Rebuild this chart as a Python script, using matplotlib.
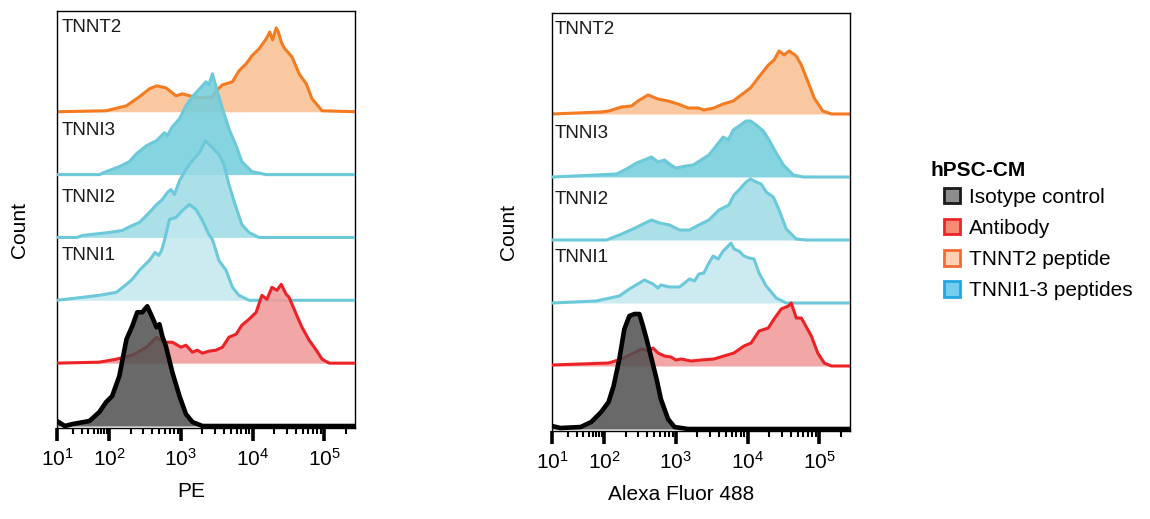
import numpy as np
import matplotlib
matplotlib.use('Agg')
import matplotlib.pyplot as plt
from matplotlib.patches import Patch
from matplotlib.ticker import FixedLocator, FuncFormatter, NullFormatter

# ---- data: histogram outlines ----
# positions are log10(fluorescence), counts are raw heights per row

# PE panel
pe_tnnt2_pos = [1.0, 1.94, 2.24, 2.42, 2.56, 2.66, 2.79, 2.93, 3.02, 3.12, 3.26, 3.44, 3.49, 3.58, 3.72, 3.81,
                3.91, 3.99, 4.09, 4.19, 4.24, 4.28, 4.33, 4.36, 4.40, 4.44, 4.55, 4.65, 4.75, 4.83, 4.97, 5.45]
pe_tnnt2_cnt = [0, 1, 6, 15, 23, 26, 24, 16, 18, 16, 14, 15, 21, 27, 30, 41,
                48, 56, 63, 73, 80, 72, 84, 80, 70, 64, 55, 38, 28, 13, 1, 0]

pe_tnni3_pos = [1.0, 1.81, 1.94, 2.14, 2.28, 2.38, 2.52, 2.66, 2.77, 2.81, 2.88, 2.98, 3.07, 3.16, 3.26, 3.35,
                3.39, 3.44, 3.51, 3.58, 3.67, 3.77, 3.85, 3.99, 4.19, 5.45]
pe_tnni3_cnt = [0, 0, 3, 8, 13, 21, 29, 34, 42, 39, 48, 56, 69, 78, 86, 93,
                90, 101, 83, 66, 46, 29, 13, 3, 0, 0]

pe_tnni2_pos = [1.0, 1.38, 1.49, 2.0, 2.18, 2.32, 2.42, 2.56, 2.66, 2.74, 2.81, 2.86, 2.91, 2.98, 3.07, 3.16,
                3.26, 3.34, 3.44, 3.53, 3.60, 3.67, 3.77, 3.85, 3.95, 4.09, 5.45]
pe_tnni2_cnt = [0, 0, 2, 5, 7, 12, 15, 25, 33, 38, 45, 48, 43, 57, 68, 77,
                85, 97, 90, 83, 73, 53, 30, 13, 5, 0, 0]

pe_tnni1_pos = [1.0, 1.49, 1.81, 2.10, 2.24, 2.32, 2.42, 2.56, 2.64, 2.69, 2.73, 2.77, 2.84, 2.93, 3.02, 3.12,
                3.21, 3.30, 3.39, 3.44, 3.53, 3.63, 3.72, 3.81, 3.95, 5.45]
pe_tnni1_cnt = [0, 3, 5, 8, 16, 21, 30, 40, 48, 45, 50, 60, 81, 83, 90, 96,
                91, 80, 66, 61, 40, 30, 13, 5, 0, 0]

pe_ab_pos = [1.0, 1.81, 2.10, 2.32, 2.52, 2.66, 2.77, 2.88, 2.93, 3.00, 3.07, 3.16, 3.23, 3.30, 3.39, 3.49,
             3.58, 3.67, 3.77, 3.85, 3.95, 4.05, 4.13, 4.20, 4.27, 4.34, 4.40, 4.47, 4.51, 4.61, 4.69, 4.79,
             4.89, 4.97, 5.07, 5.45]
pe_ab_cnt = [0, 1, 4, 8, 16, 26, 21, 21, 19, 16, 18, 11, 13, 10, 12, 13,
             16, 26, 29, 38, 44, 51, 68, 64, 76, 73, 79, 69, 66, 49, 36, 23,
             13, 4, 0, 0]

pe_iso_pos = [1.0, 1.15, 1.30, 1.62, 1.81, 1.94, 2.04, 2.14, 2.24, 2.32, 2.39, 2.46, 2.53, 2.60, 2.66, 2.70,
              2.74, 2.79, 2.88, 2.98, 3.07, 3.16, 3.30, 5.45]
pe_iso_cnt = [5, 0, 2, 5, 14, 24, 30, 50, 87, 100, 114, 114, 120, 109, 99, 102,
              90, 80, 54, 30, 12, 4, 0, 0]

# Alexa Fluor 488 panel
af_tnnt2_pos = [1.0, 1.94, 2.06, 2.24, 2.38, 2.47, 2.61, 2.75, 2.89, 3.03, 3.17, 3.31, 3.39, 3.53, 3.66, 3.80,
                3.91, 4.04, 4.18, 4.29, 4.37, 4.44, 4.51, 4.58, 4.68, 4.75, 4.85, 4.93, 5.05, 5.17, 5.45]
af_tnnt2_cnt = [0, 2, 3, 7, 8, 13, 19, 15, 13, 10, 6, 6, 4, 6, 10, 13,
                19, 26, 39, 49, 54, 63, 59, 63, 58, 49, 31, 16, 3, 0, 0]

af_tnni3_pos = [1.0, 1.84, 2.17, 2.31, 2.45, 2.59, 2.66, 2.75, 2.84, 2.93, 3.0, 3.14, 3.24, 3.35, 3.46, 3.56,
                3.66, 3.73, 3.80, 3.88, 3.98, 4.04, 4.12, 4.22, 4.30, 4.40, 4.50, 4.64, 4.78, 5.45]
af_tnni3_cnt = [0, 2, 3, 8, 14, 18, 20, 15, 17, 12, 9, 11, 12, 17, 22, 31,
                40, 37, 47, 51, 56, 56, 52, 46, 37, 24, 12, 2, 0, 0]

af_tnni2_pos = [1.0, 2.03, 2.21, 2.40, 2.54, 2.66, 2.77, 2.91, 3.05, 3.19, 3.32, 3.46, 3.60, 3.74, 3.81, 3.88,
                3.98, 4.04, 4.12, 4.19, 4.26, 4.36, 4.44, 4.54, 4.68, 4.82, 5.45]
af_tnni2_cnt = [0, 0, 5, 11, 16, 20, 17, 15, 10, 10, 15, 20, 30, 35, 45, 50,
                58, 61, 58, 56, 48, 43, 30, 11, 1, 0, 0]

af_tnni1_pos = [1.0, 1.84, 2.21, 2.35, 2.49, 2.56, 2.68, 2.75, 2.79, 2.91, 3.05, 3.12, 3.19, 3.26, 3.32, 3.39,
                3.46, 3.52, 3.59, 3.66, 3.73, 3.77, 3.81, 3.88, 3.95, 4.02, 4.09, 4.16, 4.26, 4.40, 4.54, 5.45]
af_tnni1_cnt = [0, 2, 7, 14, 20, 23, 19, 15, 18, 16, 16, 20, 24, 22, 29, 30,
                40, 47, 44, 52, 57, 60, 54, 52, 47, 45, 44, 30, 17, 5, 0, 0]

af_ab_pos = [1.0, 2.06, 2.24, 2.38, 2.52, 2.61, 2.68, 2.75, 2.84, 2.93, 3.0, 3.07, 3.21, 3.35, 3.53, 3.67,
             3.81, 3.95, 4.05, 4.16, 4.29, 4.37, 4.47, 4.57, 4.61, 4.68, 4.75, 4.79, 4.89, 4.98, 5.07, 5.17, 5.45]
af_ab_cnt = [1, 3, 7, 12, 17, 15, 18, 13, 10, 9, 6, 7, 5, 6, 7, 10,
             13, 20, 23, 35, 38, 47, 57, 60, 63, 48, 48, 43, 30, 13, 3, 0, 0]

af_iso_pos = [1.0, 1.16, 1.55, 1.75, 1.94, 2.06, 2.13, 2.21, 2.28, 2.35, 2.42, 2.49, 2.54, 2.59, 2.66, 2.73,
              2.79, 2.89, 2.98, 3.17, 5.45]
af_iso_cnt = [3, 1, 2, 7, 17, 27, 43, 70, 100, 113, 115, 115, 103, 90, 70, 50,
              30, 10, 2, 0, 0]

# rows from bottom to top
row_names = ['Isotype', 'Antibody', 'TNNI1', 'TNNI2', 'TNNI3', 'TNNT2']
tick_decades = [1, 2, 3, 4, 5]
legend_labels = ['Isotype control', 'Antibody', 'TNNT2 peptide', 'TNNI1-3 peptides']

# ---- layout / style ----
plt.rcParams['font.family'] = ['Liberation Sans', 'DejaVu Sans']
plt.rcParams['mathtext.fontset'] = 'custom'
plt.rcParams['mathtext.rm'] = 'Liberation Sans'
plt.rcParams['mathtext.it'] = 'Liberation Sans:italic'
plt.rcParams['mathtext.bf'] = 'Liberation Sans:bold'

ROW_STEP = 63
COMP = 0.73   # squeeze of the lowest decade, like a logicle display
FS = 15

row_style = {
    'Isotype': dict(line='black', fill='#4F4F4F', alpha=0.85, lw=3.3),
    'Antibody': dict(line='#EC2227', fill='#F19C9C', alpha=0.9, lw=2.2),
    'TNNI1': dict(line='#6CC9D9', fill='#C2E8EF', alpha=0.85, lw=2.2),
    'TNNI2': dict(line='#6CC9D9', fill='#9CDBE6', alpha=0.85, lw=2.2),
    'TNNI3': dict(line='#6CC9D9', fill='#74CEDC', alpha=0.88, lw=2.2),
    'TNNT2': dict(line='#F47B20', fill='#F9C8A1', alpha=1.0, lw=2.2),
}
# how far above its own baseline each row name sits
label_lift = {'TNNI1': 45, 'TNNI2': 40, 'TNNI3': 44, 'TNNT2': 84}


def fwd(x):
    lx = np.log10(np.maximum(x, 1e-3))
    return np.where(lx >= 2, lx, 2 - COMP * (2 - lx))


def inv(y):
    y = np.asarray(y, dtype=float)
    return np.where(y >= 2, 10.0 ** y, 10.0 ** (2 - (2 - y) / COMP))


def draw_panel(ax, data, xlabel, xlab_x, ylab_x, name_x):
    ax.set_xscale('function', functions=(fwd, inv))

    # draw top row first so lower histograms sit on top of it
    for k, name in enumerate(reversed(row_names)):
        i = row_names.index(name)
        pos, cnt = data[name]
        st = row_style[name]
        x = 10.0 ** np.array(pos)
        y = i * ROW_STEP + np.array(cnt, dtype=float)
        ax.fill_between(x, i * ROW_STEP, y, color=st['fill'], alpha=st['alpha'], lw=0, zorder=2 * k + 1)
        ax.plot(x, y, color=st['line'], lw=st['lw'], solid_joinstyle='round', zorder=2 * k + 2)
        if name in label_lift:
            ax.text(name_x, i * ROW_STEP + label_lift[name], name, fontsize=13.5, va='center', ha='left',
                    transform=ax.get_yaxis_transform(), color='#1a1a1a', zorder=20)

    ax.set_xlim(10, 10 ** 5.43)
    ax.set_ylim(-2, 416)

    major = [10.0 ** d for d in tick_decades]
    minor = [m * 10.0 ** d for d in range(1, 6) for m in range(2, 10) if m * 10.0 ** d < 10 ** 5.43]
    ax.xaxis.set_major_locator(FixedLocator(major))
    ax.xaxis.set_minor_locator(FixedLocator(minor))
    ax.xaxis.set_major_formatter(FuncFormatter(lambda v, p: r'$\mathregular{10^{%d}}$' % round(np.log10(v))))
    ax.xaxis.set_minor_formatter(NullFormatter())
    ax.tick_params(axis='x', which='major', length=9, width=2.6, pad=5, labelsize=FS)
    ax.tick_params(axis='x', which='minor', length=4.5, width=1.5)
    ax.set_yticks([])

    for sp in ax.spines.values():
        sp.set_linewidth(1.0)

    ax.set_xlabel(xlabel, fontsize=FS)
    ax.xaxis.set_label_coords(xlab_x, -0.13)
    ax.set_ylabel('Count', fontsize=FS)
    ax.yaxis.set_label_coords(ylab_x, 0.475)


def main():
    fig = plt.figure(figsize=(11.5, 5.19), dpi=100)

    ax1 = fig.add_axes([57 / 1150, 1 - 428 / 519, 298 / 1150, 417 / 519])
    ax2 = fig.add_axes([552 / 1150, 1 - 431 / 519, 298 / 1150, 418 / 519])

    pe = {'Isotype': (pe_iso_pos, pe_iso_cnt), 'Antibody': (pe_ab_pos, pe_ab_cnt),
          'TNNI1': (pe_tnni1_pos, pe_tnni1_cnt), 'TNNI2': (pe_tnni2_pos, pe_tnni2_cnt),
          'TNNI3': (pe_tnni3_pos, pe_tnni3_cnt), 'TNNT2': (pe_tnnt2_pos, pe_tnnt2_cnt)}
    af = {'Isotype': (af_iso_pos, af_iso_cnt), 'Antibody': (af_ab_pos, af_ab_cnt),
          'TNNI1': (af_tnni1_pos, af_tnni1_cnt), 'TNNI2': (af_tnni2_pos, af_tnni2_cnt),
          'TNNI3': (af_tnni3_pos, af_tnni3_cnt), 'TNNT2': (af_tnnt2_pos, af_tnnt2_cnt)}

    draw_panel(ax1, pe, 'PE', 0.45, -0.095, 0.017)
    draw_panel(ax2, af, 'Alexa Fluor 488', 0.433, -0.115, 0.01)

    # legend
    faces = ['#8C8C8C', '#F48B72', '#FDD1B2', '#74CCEF']
    edges = ['#1A1A1A', '#E8262B', '#F26A35', '#22A7E0']
    handles = [Patch(facecolor=f, edgecolor=e, lw=2, label=l) for f, e, l in zip(faces, edges, legend_labels)]
    fig.text(930 / 1150, 1 - 170 / 519, 'hPSC-CM', fontsize=FS, fontweight='bold', va='center', ha='left')
    fig.legend(handles=handles, loc='upper left', bbox_to_anchor=(944 / 1150, 1 - 188 / 519), frameon=False,
               fontsize=FS, handlelength=0.75, handleheight=0.75, handletextpad=0.45, labelspacing=0.58,
               borderpad=0, borderaxespad=0)

    fig.savefig('out.png', dpi=100)


if __name__ == "__main__":
    main()
